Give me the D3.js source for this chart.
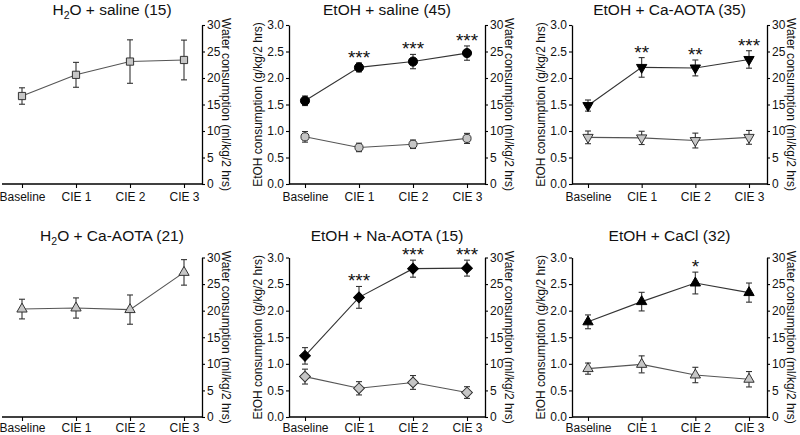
<!DOCTYPE html>
<html><head><meta charset="utf-8">
<script src="https://cdn.jsdelivr.net/npm/d3@7"></script>
<style>
body{margin:0;background:#fff;}
svg{display:block;font-family:"Liberation Sans",Arial,Helvetica,sans-serif;}
</style></head>
<body><svg id="c" width="800" height="435"></svg>
<script>
const categories = ["Baseline", "CIE 1", "CIE 2", "CIE 3"];
const etohTicks = [0.0, 0.5, 1.0, 1.5, 2.0, 2.5, 3.0];
const waterTicks = [0, 5, 10, 15, 20, 25, 30];

// H2O + saline (15)
const h2oSalineWater = [16.6, 20.6, 23.1, 23.4];
const h2oSalineWaterErr = [1.55, 2.35, 4.1, 3.75];
// EtOH + saline (45)
const etohSalineEtoh = [1.57, 2.20, 2.31, 2.47];
const etohSalineEtohErr = [0.09, 0.085, 0.135, 0.135];
const etohSalineWater = [8.9, 6.9, 7.5, 8.6];
const etohSalineWaterErr = [1.0, 0.8, 0.8, 0.95];
const etohSalineStars = ["", "***", "***", "***"];
// EtOH + Ca-AOTA (35)
const etohCaEtoh = [1.48, 2.20, 2.19, 2.35];
const etohCaEtohErr = [0.105, 0.185, 0.15, 0.165];
const etohCaWater = [8.8, 8.7, 8.2, 8.8];
const etohCaWaterErr = [1.2, 1.25, 1.4, 1.3];
const etohCaStars = ["", "**", "**", "***"];
// H2O + Ca-AOTA (21)
const h2oCaWater = [20.3, 20.5, 20.2, 27.2];
const h2oCaWaterErr = [1.85, 1.9, 2.75, 2.4];
// EtOH + Na-AOTA (15)
const etohNaEtoh = [1.15, 2.25, 2.79, 2.80];
const etohNaEtohErr = [0.155, 0.205, 0.16, 0.15];
const etohNaWater = [7.6, 5.4, 6.5, 4.6];
const etohNaWaterErr = [1.4, 1.25, 1.3, 1.1];
const etohNaStars = ["", "***", "***", "***"];
// EtOH + CaCl (32)
const etohCaClEtoh = [1.79, 2.17, 2.52, 2.34];
const etohCaClEtohErr = [0.13, 0.175, 0.205, 0.18];
const etohCaClWater = [9.1, 9.9, 7.9, 7.1];
const etohCaClWaterErr = [1.05, 1.6, 1.45, 1.45];
const etohCaClStars = ["", "", "*", ""];

const GRAY = "#c6c6c6";
const panels = [
  {title: ["H", "2", "O + saline (15)"], left: 6, lineStart: 2, right: 202, top: 25, bottom: 184, ty: 14.5, pad: 4, hasLeft: false,
   series: [{v: h2oSalineWater, e: h2oSalineWaterErr, axis: "R", shape: "square", fill: GRAY}], stars: null},
  {title: ["EtOH + saline (45)"], left: 289, right: 485, top: 25, bottom: 184, ty: 14.5, pad: 4, hasLeft: true,
   series: [{v: etohSalineWater, e: etohSalineWaterErr, axis: "R", shape: "circle", fill: GRAY},
            {v: etohSalineEtoh, e: etohSalineEtohErr, axis: "L", shape: "circle", fill: "#000"}], stars: etohSalineStars},
  {title: ["EtOH + Ca-AOTA (35)"], left: 572, right: 767, top: 25, bottom: 184, ty: 14.5, pad: 4, hasLeft: true,
   series: [{v: etohCaWater, e: etohCaWaterErr, axis: "R", shape: "down", fill: GRAY},
            {v: etohCaEtoh, e: etohCaEtohErr, axis: "L", shape: "down", fill: "#000"}], stars: etohCaStars},
  {title: ["H", "2", "O + Ca-AOTA (21)"], left: 6, lineStart: 2, right: 202, top: 257.5, bottom: 417, ty: 241, pad: 2, hasLeft: false,
   series: [{v: h2oCaWater, e: h2oCaWaterErr, axis: "R", shape: "up", fill: GRAY}], stars: null},
  {title: ["EtOH + Na-AOTA (15)"], left: 289, right: 485, top: 257.5, bottom: 417, ty: 241, pad: 2, hasLeft: true,
   series: [{v: etohNaWater, e: etohNaWaterErr, axis: "R", shape: "diamond", fill: GRAY},
            {v: etohNaEtoh, e: etohNaEtohErr, axis: "L", shape: "diamond", fill: "#000"}], stars: etohNaStars},
  {title: ["EtOH + CaCl (32)"], left: 572, right: 767, top: 257.5, bottom: 417, ty: 241, pad: 2, hasLeft: true,
   series: [{v: etohCaClWater, e: etohCaClWaterErr, axis: "R", shape: "up", fill: GRAY},
            {v: etohCaClEtoh, e: etohCaClEtohErr, axis: "L", shape: "up", fill: "#000"}], stars: etohCaClStars}
];

const svg = d3.select("#c");

function symbolPath(shape, dark) {
  if (shape === "circle") return d3.symbol(d3.symbolCircle, dark ? 66 : 52)();
  if (shape === "square") return d3.symbol(d3.symbolSquare, 52)();
  if (shape === "diamond") return d3.symbol(d3.symbolSquare, 58)();
  return d3.symbol(d3.symbolTriangle, 46)();
}
function symbolRot(shape) {
  if (shape === "down") return 180;
  if (shape === "diamond") return 45;
  return 0;
}

panels.forEach(p => {
  const g = svg.append("g");
  const x = d3.scalePoint().domain(categories).range([p.left + 16, p.right - 18]);
  const yL = d3.scaleLinear().domain([0, 3]).range([p.bottom, p.top]);
  const yR = d3.scaleLinear().domain([0, 30]).range([p.bottom, p.top]);

  // title
  const cx = (p.left + p.right) / 2 + (p.hasLeft ? 0 : 8);
  const t = g.append("text").attr("x", cx).attr("y", p.ty).attr("text-anchor", "middle")
    .attr("font-size", 15.5).attr("fill", "#111");
  if (p.title.length === 3) {
    t.append("tspan").text(p.title[0]);
    t.append("tspan").attr("font-size", 10.5).attr("dy", 4).text(p.title[1]);
    t.append("tspan").attr("dy", -4).text(p.title[2]);
  } else t.text(p.title[0]);

  // x axis
  const xa = g.append("g").attr("transform", `translate(0,${p.bottom})`)
    .call(d3.axisBottom(x).tickSize(4).tickPadding(p.pad).tickSizeOuter(0));
  xa.select(".domain").remove();
  xa.append("line").attr("x1", p.lineStart !== undefined ? p.lineStart : p.left).attr("x2", p.right)
    .attr("stroke", "#000").attr("stroke-width", 1.3);
  xa.selectAll(".tick line").attr("stroke", "#000").attr("stroke-width", 1.1);
  xa.selectAll(".tick text").attr("font-size", 12).attr("fill", "#111").attr("font-family", null);

  // right axis
  const ra = g.append("g").attr("transform", `translate(${p.right},0)`)
    .call(d3.axisRight(yR).tickValues(waterTicks).tickFormat(d3.format("d")).tickSize(3).tickPadding(2).tickSizeOuter(0));
  ra.select(".domain").attr("stroke-width", 1.3);
  ra.selectAll(".tick line").attr("stroke-width", 1.1);
  ra.selectAll(".tick text").attr("font-size", 12).attr("fill", "#111").attr("font-family", null);
  g.append("text").attr("transform", `translate(${p.right + 24},${(p.top + p.bottom) / 2}) rotate(90)`)
    .attr("text-anchor", "middle").attr("dominant-baseline", "central").attr("font-size", 12).attr("fill", "#111")
    .text("Water consumption (ml/kg/2 hrs)");

  if (p.hasLeft) {
    const la = g.append("g").attr("transform", `translate(${p.left},0)`)
      .call(d3.axisLeft(yL).tickValues(etohTicks).tickFormat(d3.format(".1f")).tickSize(3).tickPadding(2).tickSizeOuter(0));
    la.select(".domain").attr("stroke-width", 1.3);
    la.selectAll(".tick line").attr("stroke-width", 1.1);
    la.selectAll(".tick text").attr("font-size", 12).attr("fill", "#111").attr("font-family", null);
    g.append("text").attr("transform", `translate(${p.left - 31},${(p.top + p.bottom) / 2}) rotate(-90)`)
      .attr("text-anchor", "middle").attr("dominant-baseline", "central").attr("font-size", 12).attr("fill", "#111")
      .text("EtOH consumption (g/kg/2 hrs)");
  }

  p.series.forEach(s => {
    const y = s.axis === "L" ? yL : yR;
    const dark = s.fill === "#000";
    const pts = categories.map((c, i) => ({c, v: s.v[i], e: s.e[i]}));
    g.append("path").datum(pts)
      .attr("d", d3.line().x(d => x(d.c)).y(d => y(d.v)))
      .attr("fill", "none").attr("stroke", dark ? "#333" : "#555").attr("stroke-width", 1.1);
    const eb = g.selectAll(null).data(pts).enter().append("g").attr("stroke", "#333").attr("stroke-width", 1.1);
    eb.append("line").attr("x1", d => x(d.c)).attr("x2", d => x(d.c))
      .attr("y1", d => y(d.v - d.e)).attr("y2", d => y(d.v + d.e));
    eb.append("line").attr("x1", d => x(d.c) - 3).attr("x2", d => x(d.c) + 3)
      .attr("y1", d => y(d.v - d.e)).attr("y2", d => y(d.v - d.e));
    eb.append("line").attr("x1", d => x(d.c) - 3).attr("x2", d => x(d.c) + 3)
      .attr("y1", d => y(d.v + d.e)).attr("y2", d => y(d.v + d.e));
    g.selectAll(null).data(pts).enter().append("path")
      .attr("d", symbolPath(s.shape, dark))
      .attr("transform", d => `translate(${x(d.c)},${y(d.v)}) rotate(${symbolRot(s.shape)})`)
      .attr("fill", s.fill).attr("stroke", dark ? "#000" : "#333").attr("stroke-width", 1);
  });

  if (p.stars) {
    const s = p.series.find(q => q.axis === "L");
    g.selectAll(null).data(categories).enter().append("text")
      .attr("x", c => x(c)).attr("y", (c, i) => yL(s.v[i] + s.e[i]) + 1)
      .attr("text-anchor", "middle").attr("font-size", 19).attr("fill", "#111")
      .text((c, i) => p.stars[i]);
  }
});
</script></body></html>
